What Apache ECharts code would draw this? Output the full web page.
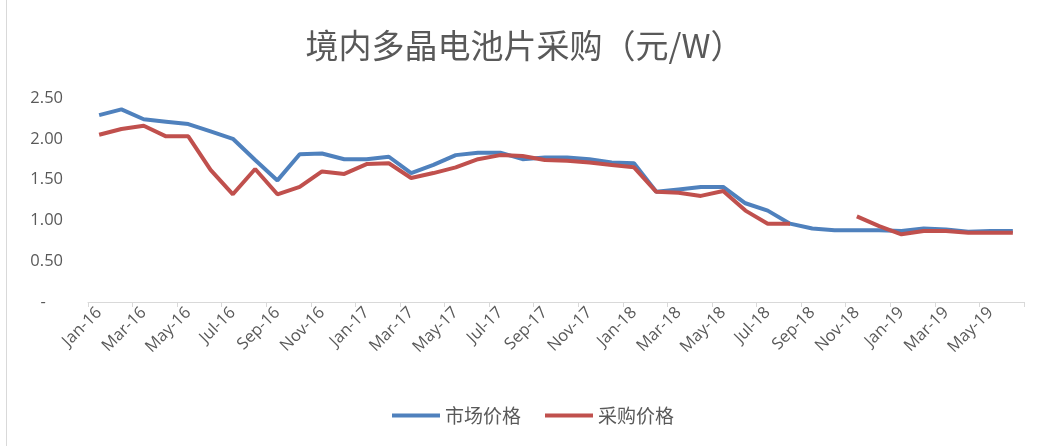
<!DOCTYPE html>
<html>
<head>
<meta charset="utf-8">
<title>境内多晶电池片采购</title>
<script src="https://cdn.jsdelivr.net/npm/echarts@6/dist/echarts.min.js"></script>
<style>
  html, body { margin: 0; padding: 0; background: #fff; }
  #mycharts { width: 1049px; height: 446px; }
</style>
</head>
<body>
<div id="mycharts"></div>
<script>
// 月份 Jan-16 ~ Jun-19
var months = [
  'Jan-16', 'Feb-16', 'Mar-16', 'Apr-16', 'May-16', 'Jun-16', 'Jul-16', 'Aug-16', 'Sep-16', 'Oct-16', 'Nov-16', 'Dec-16',
  'Jan-17', 'Feb-17', 'Mar-17', 'Apr-17', 'May-17', 'Jun-17', 'Jul-17', 'Aug-17', 'Sep-17', 'Oct-17', 'Nov-17', 'Dec-17',
  'Jan-18', 'Feb-18', 'Mar-18', 'Apr-18', 'May-18', 'Jun-18', 'Jul-18', 'Aug-18', 'Sep-18', 'Oct-18', 'Nov-18', 'Dec-18',
  'Jan-19', 'Feb-19', 'Mar-19', 'Apr-19', 'May-19', 'Jun-19'
];

// 市场价格
var marketPrice = [
  2.29, 2.36, 2.24, 2.21, 2.18, 2.09, 2.00, 1.74, 1.49, 1.81, 1.82, 1.75,
  1.75, 1.78, 1.58, 1.68, 1.80, 1.83, 1.83, 1.75, 1.77, 1.77, 1.75, 1.71,
  1.70, 1.35, 1.38, 1.41, 1.41, 1.21, 1.12, 0.96, 0.90, 0.88, 0.88, 0.88,
  0.87, 0.90, 0.89, 0.86, 0.87, 0.87
];

// 采购价格（Sep-18、Oct-18 无数据）
var purchasePrice = [
  2.05, 2.12, 2.16, 2.03, 2.03, 1.62, 1.32, 1.63, 1.32, 1.41, 1.60, 1.57,
  1.69, 1.70, 1.52, 1.58, 1.65, 1.75, 1.80, 1.79, 1.74, 1.73, 1.71, 1.68,
  1.65, 1.35, 1.34, 1.30, 1.36, 1.12, 0.96, 0.96, null, null, 1.05, 0.93,
  0.83, 0.87, 0.87, 0.85, 0.85, 0.85
];

var mycharts = echarts.init(document.getElementById('mycharts'));

var labelFont = '"Open Sans", "Noto Sans CJK SC", sans-serif';

var option = {
  backgroundColor: '#fff',
  color: ['#4F81BD', '#C0504D'],
  title: {
    text: '境内多晶电池片采购（元/W）',
    left: 'center',
    top: 24,
    textStyle: {
      fontFamily: '"Noto Sans CJK SC", sans-serif',
      fontSize: 33,
      fontWeight: 'normal',
      color: '#595959'
    }
  },
  legend: {
    left: 387,
    top: 401,
    itemWidth: 48,
    itemHeight: 4,
    itemGap: 24,
    icon: 'rect',
    data: ['市场价格', '采购价格'],
    textStyle: {
      fontFamily: '"Noto Sans CJK SC", sans-serif',
      fontSize: 19,
      color: '#595959'
    }
  },
  grid: {
    left: 88,
    right: 25,
    top: 98,
    bottom: 144
  },
  xAxis: {
    type: 'category',
    boundaryGap: true,
    data: months,
    axisLine: {
      lineStyle: { color: '#D9D9D9', width: 1 }
    },
    axisTick: {
      show: true,
      interval: 1,
      length: 5,
      lineStyle: { color: '#D9D9D9' }
    },
    axisLabel: {
      interval: 1,
      rotate: 45,
      margin: 8,
      fontFamily: labelFont,
      fontSize: 16.5,
      color: '#595959'
    },
    splitLine: { show: false }
  },
  yAxis: {
    type: 'value',
    min: 0,
    max: 2.5,
    interval: 0.5,
    axisLine: { show: false },
    axisTick: { show: false },
    splitLine: { show: false },
    axisLabel: {
      margin: 25,
      fontFamily: labelFont,
      fontSize: 16.5,
      color: '#595959',
      formatter: function (v) {
        return v === 0 ? '-    ' : v.toFixed(2);
      }
    }
  },
  // 左侧边框
  graphic: [
    {
      type: 'line',
      shape: { x1: 6.5, y1: 0, x2: 6.5, y2: 446 },
      style: { stroke: '#D9D9D9', lineWidth: 1 }
    }
  ],
  series: [
    {
      name: '市场价格',
      type: 'line',
      symbol: 'none',
      connectNulls: false,
      lineStyle: { width: 4 },
      data: marketPrice
    },
    {
      name: '采购价格',
      type: 'line',
      symbol: 'none',
      connectNulls: false,
      lineStyle: { width: 4 },
      data: purchasePrice
    }
  ]
};

mycharts.setOption(option);
</script>
</body>
</html>
